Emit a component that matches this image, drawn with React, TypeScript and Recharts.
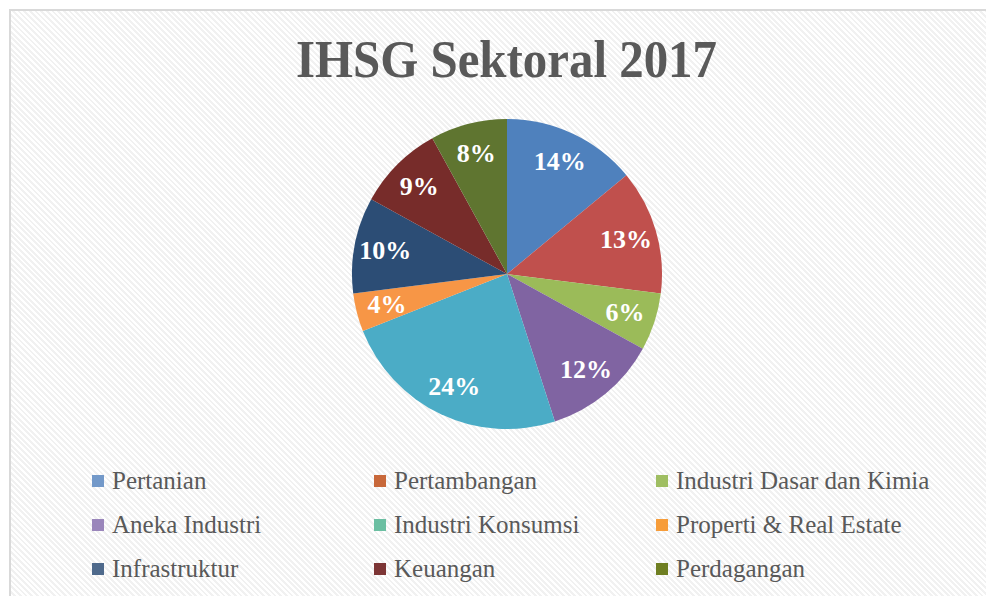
import { PieChart, Pie, Cell, Legend } from "recharts";

const sectors = [
  "Pertanian",
  "Pertambangan",
  "Industri Dasar dan Kimia",
  "Aneka Industri",
  "Industri Konsumsi",
  "Properti & Real Estate",
  "Infrastruktur",
  "Keuangan",
  "Perdagangan",
];
const shares = [14, 13, 6, 12, 24, 4, 10, 9, 8];
const sliceColors = [
  "#4f81bd",
  "#c0504d",
  "#9bbb59",
  "#8064a2",
  "#4bacc6",
  "#f79646",
  "#2c4d75",
  "#772c2a",
  "#5f7530",
];
// the legend swatches in the original don't quite match the slices
const legendColors = [
  "#7399c9",
  "#c8683a",
  "#9fbe62",
  "#9a86bb",
  "#6bbfa2",
  "#f79d3a",
  "#4f6a8c",
  "#7d3636",
  "#6f7f22",
];

const data = sectors.map((name, i) => ({ name, value: shares[i] }));

const RAD = Math.PI / 180;

const renderLabel = (props: any) => {
  const { cx, cy, midAngle, outerRadius, value } = props;
  const r = outerRadius * 0.8;
  const x = cx + r * Math.cos(-midAngle * RAD);
  const y = cy + r * Math.sin(-midAngle * RAD);
  return (
    <text
      x={x}
      y={y}
      fill="#ffffff"
      textAnchor="middle"
      dominantBaseline="central"
      fontFamily="'Liberation Serif', serif"
      fontWeight="bold"
      fontSize={26}
    >
      {value}%
    </text>
  );
};

const colX = [84, 366, 648];
const rowY = [473, 517, 561];

const renderLegend = () => (
  <div style={{ position: "relative", width: 986, height: 589 }}>
    {sectors.map((name, i) => (
      <div
        key={name}
        style={{
          position: "absolute",
          left: colX[i % 3],
          top: rowY[Math.floor(i / 3)] - 16,
          height: 32,
          display: "flex",
          alignItems: "center",
          whiteSpace: "nowrap",
        }}
      >
        <span
          style={{
            width: 12,
            height: 12,
            background: legendColors[i],
            marginRight: 8,
            display: "inline-block",
          }}
        />
        <span
          style={{
            fontFamily: "'Liberation Serif', serif",
            fontSize: 25,
            color: "#595959",
          }}
        >
          {name}
        </span>
      </div>
    ))}
  </div>
);

export default function App() {
  return (
    <div style={{ position: "relative", width: 986, height: 588 }}>
      <style>{`.pie-shadow .recharts-pie-sectors { filter: drop-shadow(0 0 8px rgba(0,0,0,0.3)); }`}</style>
      <div
        style={{
          position: "absolute",
          left: 1,
          top: 1,
          right: 0,
          bottom: 0,
          borderLeft: "2px solid #d9d9d9",
          borderTop: "2px solid #d9d9d9",
          background:
            "repeating-linear-gradient(45deg, #ffffff 0px, #ffffff 2px, #f1f1f1 2px, #f1f1f1 4px)",
        }}
      />
      <svg
        width={986}
        height={100}
        style={{ position: "absolute", left: 0, top: 0 }}
      >
        <text
          x={288}
          y={69}
          textLength={421}
          lengthAdjust="spacingAndGlyphs"
          fill="#595959"
          fontFamily="'Liberation Serif', serif"
          fontWeight="bold"
          fontSize={52}
        >
          IHSG Sektoral 2017
        </text>
      </svg>
      <div className="pie-shadow" style={{ position: "absolute", left: 0, top: 0 }}>
        <PieChart width={986} height={588} margin={{ top: 0, right: 0, bottom: 0, left: 0 }}>
          <Pie
            data={data}
            dataKey="value"
            nameKey="name"
            cx={499}
            cy={266}
            outerRadius={155}
            startAngle={90}
            endAngle={-270}
            stroke="none"
            label={renderLabel}
            labelLine={false}
            isAnimationActive={false}
          >
            {data.map((d, i) => (
              <Cell key={d.name} fill={sliceColors[i]} />
            ))}
          </Pie>
          <Legend
            content={renderLegend}
            wrapperStyle={{ position: "absolute", left: 0, top: 0, width: 986, height: 588 }}
          />
        </PieChart>
      </div>
    </div>
  );
}
